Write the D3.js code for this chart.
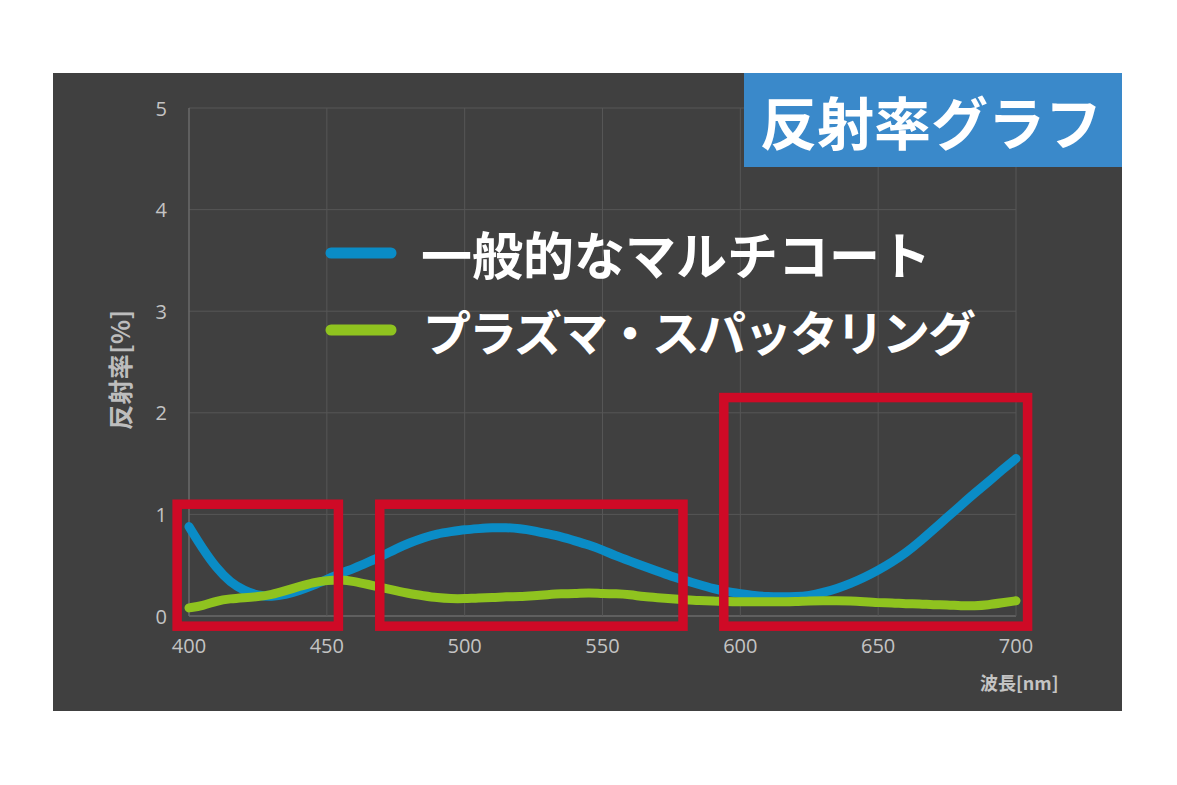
<!DOCTYPE html>
<html><head><meta charset="utf-8">
<script src="https://cdn.jsdelivr.net/npm/d3@7"></script>
<style>html,body{margin:0;padding:0;background:#fff;}svg{display:block;}</style>
</head><body>
<svg id="c" width="1177" height="785"></svg>
<script>
const wavelengths = [400,405,410,415,420,425,430,435,440,445,450,455,460,465,470,475,480,485,490,495,500,505,510,515,520,525,530,535,540,545,550,555,560,565,570,575,580,585,590,595,600,605,610,615,620,625,630,635,640,645,650,655,660,665,670,675,680,685,690,695,700];
const multiCoat = [0.88,0.66,0.47,0.33,0.25,0.20,0.19,0.21,0.25,0.30,0.36,0.42,0.47,0.53,0.59,0.66,0.72,0.77,0.81,0.83,0.85,0.86,0.87,0.87,0.86,0.84,0.81,0.78,0.74,0.70,0.65,0.59,0.54,0.49,0.44,0.39,0.35,0.31,0.27,0.24,0.22,0.20,0.19,0.19,0.19,0.20,0.23,0.27,0.32,0.38,0.45,0.53,0.62,0.73,0.85,0.97,1.09,1.21,1.32,1.44,1.55];
const plasma = [0.08,0.10,0.15,0.17,0.18,0.19,0.21,0.25,0.29,0.33,0.35,0.36,0.34,0.31,0.28,0.25,0.22,0.20,0.18,0.17,0.17,0.18,0.18,0.19,0.19,0.20,0.21,0.22,0.22,0.23,0.22,0.22,0.21,0.19,0.18,0.17,0.16,0.15,0.15,0.14,0.14,0.14,0.14,0.14,0.14,0.15,0.15,0.15,0.15,0.14,0.13,0.13,0.12,0.12,0.11,0.11,0.10,0.10,0.11,0.13,0.15];
const seriesNames = ["一般的なマルチコート","プラズマ・スパッタリング"];
const xTicks = [400,450,500,550,600,650,700];
const yTicks = [0,1,2,3,4,5];
const chartTitle = "反射率グラフ";
const xTitle = "波長[nm]";
const yTitle = "反射率[%]";
// highlight boxes in data units
const highlightX0 = [395.7, 469.2, 594.0];
const highlightX1 = [454.2, 579.2, 704.2];
const highlightY0 = [-0.10, -0.10, -0.10];
const highlightY1 = [1.10, 1.10, 2.15];

const svg = d3.select("#c");
const colors = ["#0a8cc6","#8fc31f"];
const red = "#cf0a26";
const cjk = "'Noto Sans CJK JP', sans-serif";

// panel
svg.append("rect").attr("x",53).attr("y",73).attr("width",1069).attr("height",638).attr("fill","#404040");

const x = d3.scaleLinear().domain([400,700]).range([189,1016]);
const y = d3.scaleLinear().domain([0,5]).range([616,108]);

// grid
const g = svg.append("g");
g.selectAll("line.h").data(yTicks).join("line")
  .attr("x1",x(400)).attr("x2",x(700)).attr("y1",d=>y(d)).attr("y2",d=>y(d))
  .attr("stroke",d=>d===0?"#6a6a6a":"#565656").attr("stroke-width",d=>d===0?1.5:1);
g.selectAll("line.v").data(xTicks).join("line")
  .attr("y1",y(0)).attr("y2",y(5)).attr("x1",d=>x(d)).attr("x2",d=>x(d))
  .attr("stroke",d=>d===400?"#6a6a6a":"#565656").attr("stroke-width",d=>d===400?1.5:1);

// axes labels
const tickFont = "'Open Sans', 'Noto Sans', sans-serif";
svg.append("g").selectAll("text").data(yTicks).join("text")
  .attr("x",167).attr("y",d=>y(d)).attr("text-anchor","end").attr("dominant-baseline","central")
  .attr("font-family",tickFont).attr("font-size",20).attr("fill","#c4c4c4").text(d=>d);
svg.append("g").selectAll("text").data(xTicks).join("text")
  .attr("x",d=>x(d)).attr("y",645).attr("text-anchor","middle").attr("dominant-baseline","central")
  .attr("font-family",tickFont).attr("font-size",20).attr("fill","#c4c4c4").text(d=>d);

svg.append("text").attr("x",980).attr("y",682).attr("dominant-baseline","central")
  .attr("font-family",cjk).attr("font-weight","bold").attr("font-size",18)
  .attr("fill","#c4c4c4").text(xTitle);
svg.append("text").attr("transform","translate(119,370) rotate(-90)").attr("text-anchor","middle").attr("dominant-baseline","central")
  .attr("font-family",cjk).attr("font-weight","bold").attr("font-size",25)
  .attr("textLength",120).attr("lengthAdjust","spacing")
  .attr("fill","#bdbdbd").text(yTitle);

// lines
const line = d3.line().x(d=>x(d[0])).y(d=>y(d[1])).curve(d3.curveBasis);
[multiCoat, plasma].forEach((vals,i)=>{
  const pts = wavelengths.map((w,j)=>[w,vals[j]]);
  svg.append("path").datum(pts).attr("d",line).attr("fill","none")
    .attr("stroke",colors[i]).attr("stroke-width",9).attr("stroke-linecap","round").attr("stroke-linejoin","round");
});

// highlight boxes
svg.append("g").selectAll("rect").data(highlightX0).join("rect")
  .attr("x",(d,i)=>x(highlightX0[i])).attr("y",(d,i)=>y(highlightY1[i]))
  .attr("width",(d,i)=>x(highlightX1[i])-x(highlightX0[i]))
  .attr("height",(d,i)=>y(highlightY0[i])-y(highlightY1[i]))
  .attr("fill","none").attr("stroke",red).attr("stroke-width",9.5);

// legend
const legY = [253,330];
const legTextX = [421,423];
const legSize = [51,48];
const legLength = [null,553];
seriesNames.forEach((n,i)=>{
  svg.append("line").attr("x1",331).attr("x2",391).attr("y1",legY[i]).attr("y2",legY[i])
    .attr("stroke",colors[i]).attr("stroke-width",11).attr("stroke-linecap","round");
  const t = svg.append("text").attr("x",legTextX[i]).attr("y",legY[i]).attr("dominant-baseline","central")
    .attr("font-family",cjk).attr("font-weight","bold").attr("font-size",legSize[i])
    .attr("fill","#ffffff").text(n);
  if(legLength[i]) t.attr("textLength",legLength[i]).attr("lengthAdjust","spacing");
});

// title box
svg.append("rect").attr("x",744).attr("y",73).attr("width",378).attr("height",94).attr("fill","#3a89ca");
svg.append("text").attr("x",931).attr("y",120).attr("text-anchor","middle").attr("dominant-baseline","central")
  .attr("font-family",cjk).attr("font-weight","bold").attr("font-size",57)
  .attr("fill","#ffffff").text(chartTitle);
</script>
</body></html>
